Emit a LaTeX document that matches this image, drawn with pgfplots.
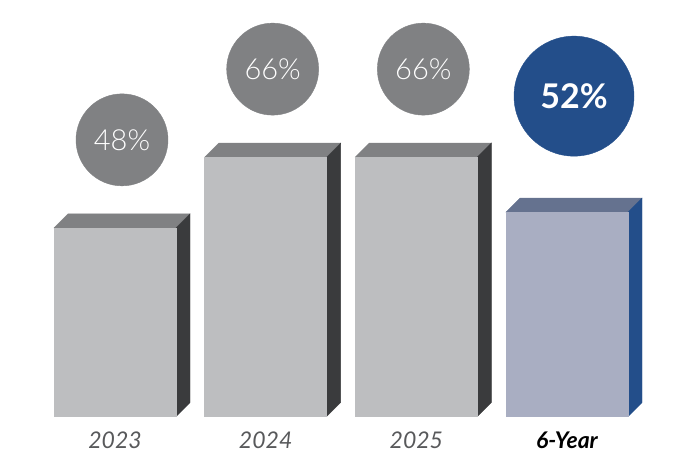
\documentclass[border=0pt]{standalone}
\usepackage{fontspec}
\setmainfont{Lato}
\newfontfamily\lightfont{Lato Light}
\usepackage{pgfplots}
\usepackage{pgfplotstable}
\pgfplotsset{compat=1.18}
\definecolor{gfront}{HTML}{BDBEC0}
\definecolor{gtop}{HTML}{808183}
\definecolor{gside}{HTML}{3A3B3D}
\definecolor{gcirc}{HTML}{808183}
\definecolor{bfront}{HTML}{A9AEC2}
\definecolor{btop}{HTML}{65728F}
\definecolor{bside}{HTML}{234E8A}
\definecolor{bcirc}{HTML}{234E8A}
\definecolor{lab}{HTML}{58595B}
\pgfplotstableread{
x y
0 48
1 66
2 66
}\grayrates
\pgfplotstableread{
x y
3 52
}\bluerates
\begin{document}
\begin{tikzpicture}
\begin{axis}[
  scale only axis, width=697pt, height=463pt,
  xmin=-0.7633, xmax=3.8628, ymin=-11.83, ymax=105.98,
  axis line style={draw=none},
  ytick=\empty, xtick pos=bottom,
  xtick={0,1,2,3}, major tick length=0pt,
  xticklabels={{\itshape 2023},{\itshape 2024},{\itshape 2025},{\color{black}\bfseries\itshape 6-Year}},
  xticklabel style={anchor=base, yshift=14pt, text=lab, font=\fontsize{23}{23}\selectfont},
  clip=false,
]
\addplot[scatter, only marks, mark=none,
  visualization depends on={y \as \yv},
  scatter/@pre marker code/.code={%
    \pgfmathsetmacro\H{\yv*3.93}%
    \pgfmathtruncatemacro\L{round(\yv)}%
    \fill[gtop] (-61pt,0pt) -- (-47pt,14pt) -- (75pt,14pt) -- (61pt,0pt) -- cycle;
    \fill[gside] (61pt,0pt) -- (75pt,14pt) -- (75pt,14pt-\H pt) -- (61pt,-\H pt) -- cycle;
    \fill[gfront] (-61pt,0pt) rectangle (61pt,-\H pt);
    \fill[gcirc] (7pt,88pt) circle (46pt);
    \node[text=white, font=\lightfont\fontsize{29}{29}\selectfont] at (7pt,88pt) {\L\%};
  },
  scatter/@post marker code/.code={},
] table {\grayrates};
\addplot[scatter, only marks, mark=none,
  visualization depends on={y \as \yv},
  scatter/@pre marker code/.code={%
    \pgfmathsetmacro\H{\yv*3.93}%
    \pgfmathtruncatemacro\L{round(\yv)}%
    \fill[btop] (-61pt,0pt) -- (-47pt,14pt) -- (75pt,14pt) -- (61pt,0pt) -- cycle;
    \fill[bside] (61pt,0pt) -- (75pt,14pt) -- (75pt,14pt-\H pt) -- (61pt,-\H pt) -- cycle;
    \fill[bfront] (-61pt,0pt) rectangle (61pt,-\H pt);
    \fill[bcirc] (7pt,116pt) circle (60pt);
    \node[text=white, font=\bfseries\fontsize{34}{34}\selectfont] at (7pt,116pt) {\L\%};
  },
  scatter/@post marker code/.code={},
] table {\bluerates};
\end{axis}
\end{tikzpicture}
\end{document}
